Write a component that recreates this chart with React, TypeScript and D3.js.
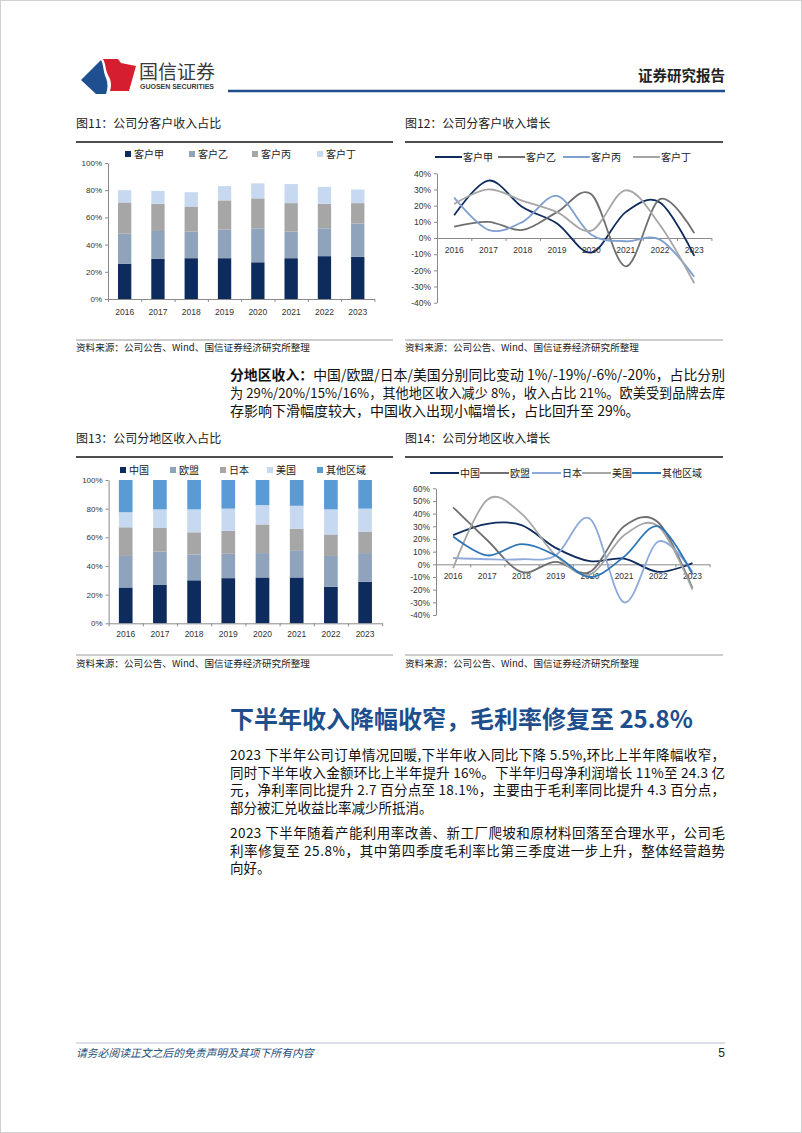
import { useEffect, useLayoutEffect, useRef } from "react"
import * as d3 from "d3"

const FONT_CN = "'Noto Sans CJK SC', 'Noto Sans', sans-serif"
const FONT_NUM = "'Liberation Sans', Arial, sans-serif"

const years = ["2016", "2017", "2018", "2019", "2020", "2021", "2022", "2023"]

// 图11 公司分客户收入占比 (%)
const customerNames = ["客户甲", "客户乙", "客户丙", "客户丁"]
const shareA = [26, 29.5, 30, 30, 27, 30, 31.5, 31]
const shareB = [22, 20.5, 19.5, 21, 25, 19.5, 20.5, 24.5]
const shareC = [23, 20, 18.5, 21.5, 22, 21, 18, 15]
const shareD = [9, 9.5, 10.5, 10.5, 11, 14, 12.5, 10]

// 图12 公司分客户收入增长 (%)
const growthA = [14, 35.5, 19, 9, -9, 16, 22, -11]
const growthB = [7, 10, 5, 16, 27, -17.5, 24, 3]
const growthC = [25, 5, 10, 26, 2, -2, -1, -24]
const growthD = [21, 30, 23, 16, 4.5, 29.5, 8, -28]

// 图13 公司分地区收入占比 (%)
const regionNames = ["中国", "欧盟", "日本", "美国", "其他区域"]
const shareChina = [25, 27, 30, 31.5, 32, 32, 25.5, 29]
const shareEU = [22, 23, 18, 17, 17, 19, 21.5, 20]
const shareJapan = [20, 16.5, 15.5, 16, 20, 15, 15, 15]
const shareUS = [10.5, 13, 16, 15.5, 13.5, 16, 17.5, 16]
const shareOther = [22.5, 20.5, 20.5, 20, 17.5, 18, 20.5, 20]

// 图14 公司分地区收入增长 (%)
const gChina = [23, 32, 31, 13, 2.5, 4.5, -6, 1]
const gEU = [45, 19, -6, 2, -6, 30, 33, -19]
const gJapan = [5, 4, 4, 7, 36, -30, 18, -6]
const gUS = [-3, 51, 40, 7, -8, 23, 30, -20]
const gOther = [22, 7, 16, 7, -10, 6, 30, -8]

const shareTicks = [0, 20, 40, 60, 80, 100]
const custGrowthTicks = [-40, -30, -20, -10, 0, 10, 20, 30, 40]
const regGrowthTicks = [-40, -30, -20, -10, 0, 10, 20, 30, 40, 50, 60]

const AXIS = "#8a8a8a"

function styleAxis(sel: any, size: number) {
  sel.attr("font-family", FONT_NUM).attr("font-size", size)
  sel.selectAll("path,line").attr("stroke", AXIS)
  sel.selectAll("text").attr("fill", "#333")
}

function drawStack(node: SVGGElement, o: any) {
  const g = d3.select(node)
  g.selectAll("*").remove()
  const x = d3.scaleBand<string>().domain(years).range([o.left, o.right]).paddingInner(0.6).paddingOuter(0.3)
  const y = d3.scaleLinear().domain([0, 100]).range([o.bottom, o.top])
  const rows = years.map((yr, i) => {
    const r: any = { year: yr }
    o.names.forEach((n: string, k: number) => (r[n] = o.values[k][i]))
    return r
  })
  const stacked = d3.stack<any>().keys(o.names)(rows)
  g.selectAll("g.layer")
    .data(stacked)
    .join("g")
    .attr("class", "layer")
    .attr("fill", (_, k) => o.colors[k])
    .selectAll("rect")
    .data((d) => d)
    .join("rect")
    .attr("x", (d: any) => x(d.data.year)!)
    .attr("width", x.bandwidth())
    .attr("y", (d) => y(d[1]))
    .attr("height", (d) => y(d[0]) - y(d[1]))

  const ya = g
    .append("g")
    .attr("transform", `translate(${o.left},0)`)
    .call(d3.axisLeft(y).tickValues(shareTicks).tickFormat((d) => d + "%").tickSize(3).tickSizeOuter(0).tickPadding(3))
  styleAxis(ya, 8)

  const xb = d3.scaleLinear().domain([0, years.length]).range([o.left, o.right])
  const xt = g
    .append("g")
    .attr("transform", `translate(0,${o.bottom})`)
    .call(d3.axisBottom(xb).tickValues(d3.range(years.length + 1)).tickFormat(() => "").tickSize(3).tickSizeOuter(0))
  styleAxis(xt, 8)
  const xl = g
    .append("g")
    .attr("transform", `translate(0,${o.bottom})`)
    .call(d3.axisBottom(x).tickSize(0).tickPadding(o.labelPad))
  styleAxis(xl, 8.5)
  xl.select(".domain").remove()

  // legend
  o.names.forEach((n: string, k: number) => {
    g.append("rect").attr("x", o.legendX[k]).attr("y", o.legendY - 3).attr("width", 6).attr("height", 6).attr("fill", o.colors[k])
    g.append("text")
      .attr("x", o.legendX[k] + 9)
      .attr("y", o.legendY + 3.5)
      .attr("font-family", FONT_CN)
      .attr("font-size", 10)
      .attr("fill", "#222")
      .text(n)
  })
}

function drawLines(node: SVGGElement, o: any) {
  const g = d3.select(node)
  g.selectAll("*").remove()
  const x = d3.scaleBand<string>().domain(years).range([o.left, o.right])
  const y = d3.scaleLinear().domain([o.ticks[0], o.ticks[o.ticks.length - 1]]).range([o.bottom, o.top])

  const ya = g
    .append("g")
    .attr("transform", `translate(${o.left},0)`)
    .call(d3.axisLeft(y).tickValues(o.ticks).tickFormat((d) => d + "%").tickSize(3).tickSizeOuter(0).tickPadding(3))
  styleAxis(ya, 8.5)

  const xb = d3.scaleLinear().domain([0, years.length]).range([o.left, o.right])
  const xt = g
    .append("g")
    .attr("transform", `translate(0,${y(0)})`)
    .call(d3.axisBottom(xb).tickValues(d3.range(years.length + 1)).tickFormat(() => "").tickSize(3).tickSizeOuter(0))
  styleAxis(xt, 8)
  const xl = g
    .append("g")
    .attr("transform", `translate(0,${y(0)})`)
    .call(d3.axisBottom(x).tickSize(0).tickPadding(o.labelPad))
  styleAxis(xl, 8.5)
  xl.select(".domain").remove()

  const line = d3
    .line<number>()
    .x((_, i) => x(years[i])! + x.bandwidth() / 2)
    .y((d) => y(d))
    .curve(d3.curveCardinal.tension(0))

  o.values.forEach((vals: number[], k: number) => {
    g.append("path").datum(vals).attr("fill", "none").attr("stroke", o.colors[k]).attr("stroke-width", 1.8).attr("d", line)
  })

  o.names.forEach((n: string, k: number) => {
    const lx = o.legendX[k]
    g.append("line")
      .attr("x1", lx)
      .attr("x2", lx + o.legendLen)
      .attr("y1", o.legendY)
      .attr("y2", o.legendY)
      .attr("stroke", o.colors[k])
      .attr("stroke-width", 2)
    g.append("text")
      .attr("x", lx + o.legendLen + 1)
      .attr("y", o.legendY + 3.5)
      .attr("font-family", FONT_CN)
      .attr("font-size", 10)
      .attr("fill", "#222")
      .text(n)
  })
}

function Logo() {
  return (
    <g>
      <path d="M81,80 L101,60 C104,66 103,72 106,78 C108,83 108,88 106,94 L96,94 Z" fill="#1d4f91" />
      <path d="M103,59 L118,59 L121,63 L136,66 L129,91 L110,91 C112,85 111,80 108,75 C105,69 106,64 103,59 Z" fill="#d51f2e" />
      <text x={139} y={79} fontFamily={FONT_CN} fontSize={19} fill="#3a3a3a">
        国信证券
      </text>
      <text x={140} y={88.5} fontFamily={FONT_NUM} fontSize={7} fontWeight="bold" fill="#3a3a3a" textLength={74} lengthAdjust="spacingAndGlyphs">
        GUOSEN SECURITIES
      </text>
    </g>
  )
}

function ChartFrame({ x, w, titleY, title, lineY, srcY }: any) {
  return (
    <g>
      <text x={x} y={titleY} fontFamily={FONT_CN} fontSize={12} fill="#222">
        {title}
      </text>
      <line x1={x} x2={x + w} y1={titleY + 14} y2={titleY + 14} stroke="#4d4d4d" strokeWidth={2} />
      <line x1={x} x2={x + w} y1={lineY} y2={lineY} stroke="#9a9a9a" strokeWidth={1} />
      <text x={x} y={srcY} fontFamily={FONT_CN} fontSize={9.6} fill="#222">
        资料来源：公司公告、Wind、国信证券经济研究所整理
      </text>
    </g>
  )
}

const TX = 230
const TW = 495

// justified line: shrink the font a little if the line is too long, then spread it to the column width
function JLine({ y, size, children }: any) {
  const ref = useRef<SVGTextElement>(null)
  useLayoutEffect(() => {
    const t = ref.current
    if (!t) return
    t.removeAttribute("textLength")
    t.setAttribute("font-size", String(size))
    const natural = t.getComputedTextLength()
    if (natural > TW - 2) t.setAttribute("font-size", String((size * (TW - 3)) / natural))
    t.setAttribute("textLength", String(TW))
    t.setAttribute("lengthAdjust", "spacing")
  }, [size])
  return (
    <text ref={ref} x={TX} y={y} fontSize={size}>
      {children}
    </text>
  )
}

export default function App() {
  const c1 = useRef<SVGGElement>(null)
  const c2 = useRef<SVGGElement>(null)
  const c3 = useRef<SVGGElement>(null)
  const c4 = useRef<SVGGElement>(null)

  useEffect(() => {
    document.body.style.margin = "0"
    drawStack(c1.current!, {
      names: customerNames,
      values: [shareA, shareB, shareC, shareD],
      colors: ["#0e2b5e", "#8fa3bd", "#a6a6a6", "#c6d9f0"],
      left: 108,
      right: 108 + 8 * 33.3,
      top: 163,
      bottom: 299,
      labelPad: 9.5,
      legendX: [125, 189, 252, 317],
      legendY: 154,
    })
    drawLines(c2.current!, {
      names: customerNames,
      values: [growthA, growthB, growthC, growthD],
      colors: ["#0e2b5e", "#6f6f6f", "#7f9fcf", "#a6a6a6"],
      ticks: custGrowthTicks,
      left: 437,
      right: 437 + 8 * 34.3,
      top: 173.3,
      bottom: 302.7,
      labelPad: 9,
      legendX: [435, 498, 563, 633],
      legendLen: 27,
      legendY: 157,
    })
    drawStack(c3.current!, {
      names: regionNames,
      values: [shareChina, shareEU, shareJapan, shareUS, shareOther],
      colors: ["#0e2b5e", "#8fa3bd", "#a6a6a6", "#c6d9f0", "#5b9bd5"],
      left: 108.6,
      right: 108.6 + 8 * 34.2,
      top: 480,
      bottom: 623.3,
      labelPad: 8,
      legendX: [120, 170, 220, 267, 317],
      legendY: 470,
    })
    drawLines(c4.current!, {
      names: regionNames,
      values: [gChina, gEU, gJapan, gUS, gOther],
      colors: ["#0e2b5e", "#6f6f6f", "#8eaadb", "#a6a6a6", "#2e75b6"],
      ticks: regGrowthTicks,
      left: 436,
      right: 436 + 8 * 34.2,
      top: 488.3,
      bottom: 615,
      labelPad: 9,
      legendX: [430, 480, 532, 582, 632],
      legendLen: 29,
      legendY: 473,
    })
  }, [])

  return (
    <svg width={802} height={1133} style={{ display: "block", background: "#fff" }}>
      <rect x={0.5} y={0.5} width={801} height={1132} fill="#fff" stroke="#d0d0d0" />
      <Logo />
      <text x={725} y={81} textAnchor="end" fontFamily={FONT_CN} fontSize={14.5} fontWeight="bold" fill="#222">
        证券研究报告
      </text>
      <line x1={228} x2={725} y1={91} y2={91} stroke="#1f4e8c" strokeWidth={2.5} />

      <ChartFrame x={76} w={317} titleY={128} title="图11：公司分客户收入占比" lineY={340} srcY={350.5} />
      <ChartFrame x={405} w={318} titleY={128} title="图12：公司分客户收入增长" lineY={340} srcY={350.5} />
      <g ref={c1} />
      <g ref={c2} />

      <g fontFamily={FONT_CN} fill="#111">
        <JLine y={380} size={14}>
          <tspan fontWeight="bold">分地区收入：</tspan>中国/欧盟/日本/美国分别同比变动 1%/-19%/-6%/-20%，占比分别
        </JLine>
        <JLine y={398} size={14}>
          为 29%/20%/15%/16%，其他地区收入减少 8%，收入占比 21%。欧美受到品牌去库
        </JLine>
        <text x={TX} y={415.5} fontSize={14}>
          存影响下滑幅度较大，中国收入出现小幅增长，占比回升至 29%。
        </text>
      </g>

      <ChartFrame x={76} w={317} titleY={443} title="图13：公司分地区收入占比" lineY={655} srcY={666.5} />
      <ChartFrame x={405} w={318} titleY={443} title="图14：公司分地区收入增长" lineY={655} srcY={666.5} />
      <g ref={c3} />
      <g ref={c4} />

      <text x={TX} y={727.5} fontFamily={FONT_CN} fontSize={24} fontWeight="bold" fill="#1f4e8c">
        下半年收入降幅收窄，毛利率修复至 25.8%
      </text>

      <g fontFamily={FONT_CN} fill="#111">
        <JLine y={760} size={13.5}>
          2023 下半年公司订单情况回暖,下半年收入同比下降 5.5%,环比上半年降幅收窄，
        </JLine>
        <JLine y={777.5} size={13.5}>
          同时下半年收入金额环比上半年提升 16%。下半年归母净利润增长 11%至 24.3 亿
        </JLine>
        <JLine y={795} size={13.5}>
          元，净利率同比提升 2.7 百分点至 18.1%，主要由于毛利率同比提升 4.3 百分点，
        </JLine>
        <text x={TX} y={812.5} fontSize={13.5}>
          部分被汇兑收益比率减少所抵消。
        </text>
        <JLine y={838} size={13.5}>
          2023 下半年随着产能利用率改善、新工厂爬坡和原材料回落至合理水平，公司毛
        </JLine>
        <JLine y={855.5} size={13.5}>
          利率修复至 25.8%，其中第四季度毛利率比第三季度进一步上升，整体经营趋势
        </JLine>
        <text x={TX} y={873} fontSize={13.5}>
          向好。
        </text>
      </g>

      <line x1={76} x2={725} y1={1043} y2={1043} stroke="#b8c0cc" strokeWidth={1} />
      <text x={76} y={1057} fontFamily={FONT_CN} fontSize={10.8} fontStyle="italic" fill="#1f4e79">
        请务必阅读正文之后的免责声明及其项下所有内容
      </text>
      <text x={725} y={1057} textAnchor="end" fontFamily={FONT_NUM} fontSize={12} fill="#222">
        5
      </text>
    </svg>
  )
}
